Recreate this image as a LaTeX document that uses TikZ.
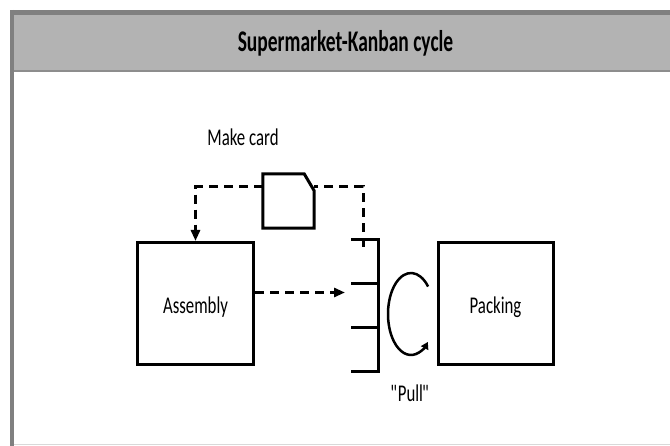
\documentclass[tikz,border=0pt]{standalone}
\usepackage{fontspec}
\setmainfont{Carlito}[FakeStretch=0.7]
\newfontfamily\headfont{Carlito}[FakeStretch=0.65]
\usepackage{xcolor}
\usepackage{tikz}
\usetikzlibrary{calc,arrows.meta,positioning}
\definecolor{frame}{RGB}{128,128,128}
\definecolor{head}{RGB}{179,179,179}

\begin{document}
\begin{tikzpicture}[x=1pt,y=1pt,font=\fontsize{24}{26}\selectfont,
     pb/.style={draw,line width=3pt,minimum width=116pt,minimum height=122pt,inner sep=0pt,text height=20pt,text depth=0pt},
     lw/.style={line width=3pt},
     dl/.style={lw,dash pattern=on 9pt off 6pt},
     ar/.style={dl,-{Triangle[width=9pt,length=11pt]}}]
    \useasboundingbox (0,0) rectangle (670,-446);
    \fill[head] (12,-12) rectangle (670,-71);
    \draw[frame,line width=5pt] (10,-12.5) -- (670,-12.5);
    \draw[frame,line width=4pt] (12,-10) -- (12,-446);
    \draw[frame!90,line width=2pt] (14,-71) -- (670,-71);
    \draw[black!15,line width=1pt] (14,-445) -- (670,-445);
    \node[anchor=base,font={\headfont\bfseries\fontsize{30}{32}\selectfont}] (title) at (345.5,-51.7) {Supermarket-Kanban cycle};
    \node[pb] (assembly) at (195.5,-303.5) {Assembly};
    \node[pb,minimum width=115pt] (packing) at (495.5,-304) {Packing};
    \node[anchor=base] (make) at (243,-146) {Make card};
    \node[minimum width=51pt,minimum height=54pt,inner sep=0pt] (card) at (288.5,-201) {};
    \draw[lw,line join=miter] (card.south west) -- (card.north west) -- ([xshift=-10pt]card.north east)
      -- ([yshift=-17pt]card.north east) -- (card.south east) -- cycle;
    \node[minimum width=27pt,minimum height=132pt,inner sep=0pt] (market) at (364.7,-305.8) {};
    \draw[lw] (market.north west) -- (market.north east) -- (market.south east) -- (market.south west);
    \foreach \f in {1/3,2/3}
      \draw[lw] ($(market.north west)!\f!(market.south west)$) -- ($(market.north east)!\f!(market.south east)$);
    \coordinate (kan) at (363,-247);
    \draw[dl] (kan) |- ([yshift=14pt]card.east);
    \draw[ar] ([yshift=14pt]card.west) -| (assembly.north);
    \draw[ar,shorten >=6pt] ([yshift=11pt]assembly.east) -- ([yshift=11pt]assembly.east -| market.west);
    \coordinate (turn) at (411,-314);
    \draw[line width=2.5pt,-{Triangle[width=8pt,length=7pt]}] ($(turn)+(42:23 and 41)$)
      arc[start angle=42,end angle=317,x radius=23,y radius=41];
    \node[anchor=base] (pull) at (411,-401.7) {\textquotedbl\kern-2pt Pull\kern-1pt\textquotedbl};
  \end{tikzpicture}
\end{document}
